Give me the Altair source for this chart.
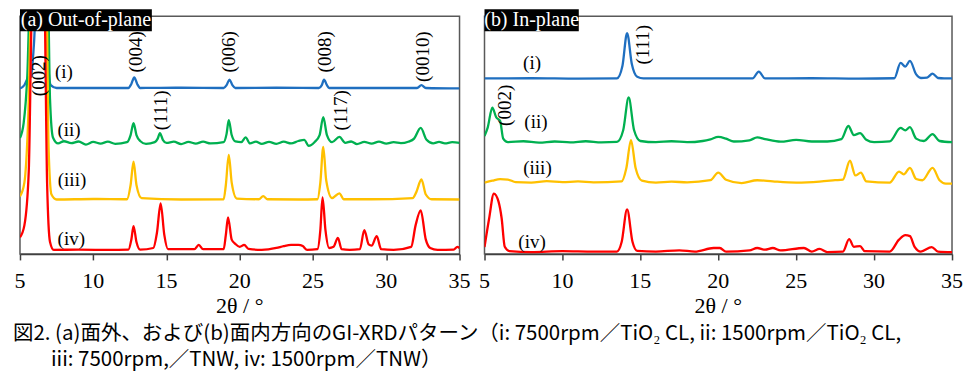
import altair as alt
import pandas as pd

# ---------------- data (2theta, intensity in arbitrary offset units) ----------------
# (a) Out-of-plane
oop_i = [(5.0, 69.6), (5.3, 71.0), (5.55, 74.0), (5.75, 74.5), (5.95, 88.0), (6.15, 110.0),
         (6.7, 110.0), (6.9, 82.0), (7.1, 71.0), (7.5, 69.8), (10.0, 69.8), (12.4, 69.8),
         (12.6, 71.5), (12.8, 74.3), (13.0, 71.5), (13.2, 69.8), (16.0, 69.9), (18.9, 69.8),
         (19.1, 71.0), (19.3, 73.3), (19.5, 71.0), (19.7, 69.8), (22.5, 69.9), (25.4, 69.8),
         (25.6, 71.0), (25.75, 73.3), (25.95, 71.0), (26.1, 69.8), (29.0, 69.8), (32.1, 69.8),
         (32.4, 71.0), (32.7, 69.8), (35.0, 69.6)]
oop_ii = [(5.0, 48.8), (5.25, 55.0), (5.5, 75.0), (5.7, 110.0), (6.9, 110.0), (7.05, 65.0),
          (7.25, 49.0), (7.6, 46.5), (8.0, 47.4), (8.5, 46.6), (9.0, 47.3), (9.5, 46.0),
          (10.0, 47.1), (10.5, 46.4), (11.0, 47.2), (11.5, 46.3), (12.3, 47.0), (12.55, 50.0),
          (12.75, 55.0), (12.95, 50.0), (13.2, 47.5), (13.6, 46.3), (14.2, 47.0), (14.4, 48.5),
          (14.55, 50.8), (14.75, 48.0), (15.0, 46.7), (15.5, 47.2), (16.0, 46.2), (16.5, 47.1),
          (17.0, 46.4), (17.5, 47.2), (18.0, 46.5), (18.9, 47.0), (19.1, 50.5), (19.25, 56.3),
          (19.45, 50.0), (19.7, 47.3), (20.1, 47.0), (20.4, 49.0), (20.7, 46.5), (21.1, 47.2),
          (21.5, 46.3), (22.0, 47.1), (22.5, 46.3), (23.0, 47.2), (23.5, 46.5), (24.0, 47.5),
          (24.4, 48.0), (24.7, 45.5), (25.1, 47.0), (25.45, 50.0), (25.7, 57.5), (25.95, 50.0),
          (26.3, 47.0), (26.8, 49.2), (27.2, 46.7), (27.6, 47.3), (28.0, 46.2), (28.5, 47.1),
          (29.0, 46.4), (29.5, 47.2), (30.0, 46.4), (30.5, 47.0), (31.0, 46.6), (31.5, 47.2),
          (31.9, 48.5), (32.35, 53.0), (32.75, 48.0), (33.2, 46.5), (33.6, 47.1), (34.0, 46.5),
          (34.5, 47.0), (35.0, 46.7)]
oop_iii = [(5.0, 24.2), (5.3, 30.0), (5.55, 55.0), (5.8, 110.0), (6.8, 110.0), (6.95, 45.0),
           (7.15, 25.0), (7.5, 22.9), (10.0, 23.1), (12.3, 23.0), (12.55, 29.0), (12.75, 38.8),
           (12.95, 29.0), (13.3, 23.5), (16.0, 22.9), (18.9, 23.0), (19.05, 29.0), (19.25, 41.7),
           (19.45, 30.0), (19.8, 23.3), (21.3, 23.0), (21.6, 24.3), (21.9, 23.0), (24.0, 22.9),
           (25.3, 23.0), (25.5, 30.0), (25.7, 45.0), (25.9, 31.0), (26.3, 23.5), (26.8, 25.5),
           (27.1, 23.0), (29.0, 23.0), (31.8, 23.5), (32.05, 26.0), (32.4, 31.3), (32.7, 25.0),
           (33.1, 23.0), (35.0, 22.9)]
oop_iv = [(5.0, 7.0), (5.3, 12.0), (5.6, 35.0), (5.85, 110.0), (6.65, 110.0), (6.85, 30.0),
          (7.05, 5.0), (7.3, 1.7), (9.0, 1.8), (11.0, 1.7), (12.4, 1.8), (12.6, 6.0),
          (12.75, 11.7), (12.95, 5.0), (13.2, 1.8), (14.1, 2.5), (14.35, 9.0), (14.6, 21.3),
          (14.85, 8.0), (15.1, 2.0), (16.9, 2.0), (17.2, 3.8), (17.5, 2.0), (18.9, 2.0),
          (19.05, 8.0), (19.2, 15.4), (19.45, 6.0), (19.7, 4.2), (20.0, 3.0), (20.3, 3.8),
          (20.6, 2.1), (21.5, 1.7), (22.5, 2.5), (23.0, 3.3), (23.5, 3.8), (24.0, 3.8),
          (24.3, 3.3), (24.6, 1.7), (25.3, 2.0), (25.5, 10.0), (25.65, 23.8), (25.85, 10.0),
          (26.1, 2.5), (26.4, 3.0), (26.7, 6.7), (26.95, 2.0), (27.5, 1.7), (28.2, 2.0),
          (28.5, 10.0), (28.8, 4.0), (29.0, 3.5), (29.35, 7.5), (29.65, 2.0), (30.5, 1.7),
          (31.7, 3.0), (32.0, 12.0), (32.35, 18.3), (32.7, 6.0), (33.0, 2.5), (33.5, 1.7),
          (34.6, 1.8), (34.85, 3.0), (35.0, 2.5)]

# (b) In-plane
ip_i = [(5.0, 73.8), (8.0, 73.9), (11.0, 73.7), (13.5, 73.8), (13.85, 79.0), (14.15, 92.9),
        (14.45, 80.0), (14.8, 74.5), (15.2, 73.8), (18.0, 73.8), (22.2, 73.8), (22.6, 76.7),
        (23.0, 73.8), (26.0, 73.9), (29.0, 73.7), (31.3, 73.9), (31.7, 80.4), (32.0, 78.8),
        (32.3, 81.2), (32.7, 75.5), (33.0, 74.0), (33.4, 74.2), (33.75, 75.8), (34.1, 74.0),
        (34.5, 73.8), (35.0, 73.8)]
ip_ii = [(5.0, 49.6), (5.2, 53.0), (5.5, 61.5), (5.75, 57.5), (6.0, 56.0), (6.2, 48.5),
         (6.5, 47.0), (7.5, 47.4), (8.5, 46.8), (9.5, 47.3), (10.5, 46.9), (11.5, 47.4),
         (12.5, 46.9), (13.5, 47.1), (13.9, 52.0), (14.25, 65.8), (14.6, 52.0), (15.0, 47.5),
         (16.0, 47.0), (17.0, 47.4), (18.0, 47.0), (19.0, 47.5), (19.5, 48.2), (20.0, 49.2),
         (20.5, 48.5), (21.0, 47.3), (22.0, 47.8), (22.5, 49.0), (23.0, 48.3), (24.0, 47.2),
         (25.0, 48.0), (26.0, 47.3), (27.0, 47.3), (27.9, 48.3), (28.35, 53.8), (28.7, 50.0),
         (29.1, 50.8), (29.5, 48.0), (30.0, 47.0), (31.0, 47.3), (31.7, 53.0), (32.0, 52.0),
         (32.3, 53.3), (32.7, 48.5), (33.2, 47.5), (33.75, 50.4), (34.2, 47.5), (35.0, 47.0)]
ip_iii = [(5.0, 30.0), (5.5, 30.8), (6.0, 31.5), (6.5, 31.3), (7.0, 30.2), (8.0, 30.0),
          (9.0, 30.6), (10.0, 30.2), (11.0, 30.5), (12.0, 30.1), (13.8, 30.5), (14.1, 36.0),
          (14.4, 47.9), (14.7, 36.0), (15.1, 30.8), (16.0, 30.0), (17.0, 30.4), (18.0, 30.1),
          (19.5, 31.0), (20.0, 34.2), (20.5, 31.2), (21.5, 29.8), (22.5, 31.0), (23.5, 30.5),
          (25.0, 30.0), (26.5, 30.4), (27.5, 31.0), (28.0, 31.3), (28.45, 39.2), (28.8, 33.0),
          (29.15, 34.2), (29.5, 30.5), (31.0, 30.0), (31.6, 34.6), (31.9, 33.5), (32.3, 36.2),
          (32.7, 31.5), (33.1, 31.0), (33.75, 36.2), (34.2, 31.0), (34.6, 29.6), (35.0, 29.6)]
ip_iv = [(5.0, 2.9), (5.3, 15.0), (5.6, 25.4), (5.9, 22.0), (6.1, 15.0), (6.3, 3.0),
         (6.6, 1.2), (8.0, 0.8), (10.0, 1.2), (12.0, 1.0), (13.5, 1.0), (13.8, 5.0),
         (14.15, 18.75), (14.5, 5.0), (14.8, 1.3), (16.0, 1.0), (17.5, 1.5), (18.5, 1.0),
         (19.7, 2.5), (20.1, 2.5), (20.5, 1.0), (22.0, 1.5), (22.5, 2.5), (23.0, 1.8),
         (23.5, 2.5), (24.0, 1.5), (25.5, 2.5), (26.0, 1.0), (26.5, 2.1), (27.0, 0.8),
         (28.0, 1.0), (28.4, 6.25), (28.7, 3.0), (29.1, 3.3), (29.4, 1.2), (31.0, 1.0),
         (31.6, 6.0), (32.0, 7.9), (32.3, 7.5), (32.6, 3.0), (33.0, 1.0), (33.7, 2.9),
         (34.1, 1.0), (35.0, 0.8)]

series_names = ["(i)", "(ii)", "(iii)", "(iv)"]
series_colors = ["#1F6FC0", "#00B050", "#FFC000", "#FF0000"]

oop_series_label_x = [8.0, 8.35, 8.55, 8.5]
oop_series_label_y = [76.7, 52.0, 31.0, 6.25]
ip_series_label_x = [8.05, 8.3, 8.4, 8.05]
ip_series_label_y = [80.4, 55.4, 36.25, 5.0]

oop_peak_labels = ["(002)", "(004)", "(006)", "(008)", "(0010)", "(111)", "(117)"]
oop_peak_x = [6.3, 12.9, 19.3, 25.8, 32.5, 14.6, 26.9]
oop_peak_y = [75.0, 85.0, 85.0, 85.0, 83.0, 60.4, 60.4]
ip_peak_labels = ["(111)", "(002)"]
ip_peak_x = [15.2, 6.3]
ip_peak_y = [88.0, 62.5]

panel_titles = ["(a) Out-of-plane", "(b) In-plane"]
panel_box_x2 = [14.0, 11.05]

x_ticks = [5, 10, 15, 20, 25, 30, 35]
x_title = "2θ / °"

caption_lines = [
    "図2. (a)面外、および(b)面内方向のGI-XRDパターン（i: 7500rpm／TiO₂ CL, ii: 1500rpm／TiO₂ CL,",
    "iii: 7500rpm,／TNW, iv: 1500rpm／TNW）",
]

SERIF = "Liberation Serif"
CJK = "Noto Sans CJK JP"
PLOT_H = 238


def make_axis():
    return alt.Axis(values=x_ticks, title=None, labels=False, domainColor="#404040",
                    tickColor="#404040", domainWidth=1.5, tickWidth=1.5, tickSize=6,
                    grid=False)


def panel(series_list, lab_x, lab_y, pk_lab, pk_x, pk_y, title, box_x2, width, caption=False):
    xs = alt.Scale(domain=[5, 35], nice=False, zero=False)
    ys = alt.Scale(domain=[0, 100], nice=False, zero=False)

    def X(field):
        return alt.X(field, scale=xs, axis=make_axis())

    def Y(field):
        return alt.Y(field, scale=ys, axis=None)

    layers = []
    for name, color, pts in zip(series_names, series_colors, series_list):
        df = pd.DataFrame(pts, columns=["tt", "v"])
        layers.append(
            alt.Chart(df).mark_line(color=color, strokeWidth=2.3, clip=True,
                                    interpolate="monotone").encode(x=X("tt:Q"), y=Y("v:Q"))
        )
    # series labels
    sdf = pd.DataFrame({"tt": lab_x, "v": lab_y, "t": series_names})
    layers.append(alt.Chart(sdf).mark_text(font=SERIF, fontSize=19, color="black",
                                           align="center", baseline="middle").encode(
        x=X("tt:Q"), y=Y("v:Q"), text="t:N"))
    # peak (hkl) labels, rotated
    pdf = pd.DataFrame({"tt": pk_x, "v": pk_y, "t": pk_lab})
    layers.append(alt.Chart(pdf).mark_text(font=SERIF, fontSize=19, color="black", angle=270,
                                           align="center", baseline="middle").encode(
        x=X("tt:Q"), y=Y("v:Q"), text="t:N"))
    # black panel-title box
    bdf = pd.DataFrame({"x1": [5.0], "x2": [box_x2], "y1": [93.7], "y2": [102.9],
                        "xm": [(5.0 + box_x2) / 2], "ym": [98.2], "t": [title]})
    layers.append(alt.Chart(bdf).mark_rect(color="black").encode(
        x=X("x1:Q"), x2="x2:Q", y=Y("y1:Q"), y2="y2:Q"))
    layers.append(alt.Chart(bdf).mark_text(font=SERIF, fontSize=20, color="white",
                                           align="center", baseline="middle").encode(
        x=X("xm:Q"), y=Y("ym:Q"), text="t:N"))
    # tick labels and axis title (serif)
    tdf = pd.DataFrame({"tt": x_ticks, "t": [str(v) for v in x_ticks]})
    layers.append(alt.Chart(tdf).mark_text(font=SERIF, fontSize=22, color="black",
                                           align="center", baseline="middle").encode(
        x=X("tt:Q"), y=alt.value(PLOT_H + 27), text="t:N"))
    adf = pd.DataFrame({"t": [x_title]})
    layers.append(alt.Chart(adf).mark_text(font=SERIF, fontSize=22, color="black",
                                           align="center", baseline="middle").encode(
        x=alt.value(width / 2), y=alt.value(PLOT_H + 52), text="t:N"))
    if caption:
        cdf1 = pd.DataFrame({"t": [caption_lines[0]]})
        cdf2 = pd.DataFrame({"t": [caption_lines[1]]})
        layers.append(alt.Chart(cdf1).mark_text(font=CJK, fontSize=20.5, color="black",
                                                align="left", baseline="middle").encode(
            x=alt.value(-7), y=alt.value(PLOT_H + 80), text="t:N"))
        layers.append(alt.Chart(cdf2).mark_text(font=CJK, fontSize=20.5, color="black",
                                                align="left", baseline="middle").encode(
            x=alt.value(31), y=alt.value(PLOT_H + 106), text="t:N"))
    return alt.layer(*layers).properties(width=width, height=PLOT_H)


left = panel([oop_i, oop_ii, oop_iii, oop_iv], oop_series_label_x, oop_series_label_y,
             oop_peak_labels, oop_peak_x, oop_peak_y, panel_titles[0], panel_box_x2[0], 440,
             caption=True)
right = panel([ip_i, ip_ii, ip_iii, ip_iv], ip_series_label_x, ip_series_label_y,
              ip_peak_labels, ip_peak_x, ip_peak_y, panel_titles[1], panel_box_x2[1], 468)

chart = alt.hconcat(left, right, spacing=25, bounds="flush").properties(
    padding={"left": 4, "top": 0, "right": 0, "bottom": 0},
).configure(
    font=SERIF
).configure_view(
    stroke="#595959", strokeWidth=1.5
)

chart.save("out.html", embed_options={"renderer": "svg", "actions": False})
